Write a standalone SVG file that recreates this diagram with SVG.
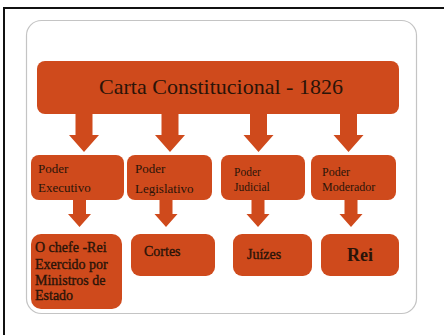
<svg xmlns="http://www.w3.org/2000/svg" width="444" height="335" viewBox="0 0 444 335">
<style>
.box{fill:#CF4A1C;}
.arrow{fill:#CF4A1C;}
.t{font-family:"Liberation Serif","Times New Roman",serif;fill:#2a1408;}
.s{font-size:13px;}
.b{font-size:14px;stroke:#2a1408;stroke-width:0.35;}
</style>
<rect width="444" height="335" fill="#ffffff"/>
<path d="M4,335 V8 H444" fill="none" stroke="#111111" stroke-width="2"/>
<rect x="26.5" y="20.5" width="390" height="293" rx="15" fill="#ffffff" stroke="#c4c4c4" stroke-width="1.2"/>
<g id="connectors">
<polygon class="arrow" points="75.5,114 92.5,114 92.5,135 99,135 84,152 69,135 75.5,135"/>
<polygon class="arrow" points="161.5,114 178.5,114 178.5,135 185,135 170,152 155,135 161.5,135"/>
<polygon class="arrow" points="250,114 267,114 267,135 273.5,135 258.5,152 243.5,135 250,135"/>
<polygon class="arrow" points="340,114 357,114 357,135 363.5,135 348.5,152 333.5,135 340,135"/>
<polygon class="arrow" points="73,200 86,200 86,214 91,214 79.5,227 68,214 73,214"/>
<polygon class="arrow" points="159.5,200 172.5,200 172.5,214 177.5,214 166,227 154.5,214 159.5,214"/>
<polygon class="arrow" points="251.5,200 264.5,200 264.5,214 269.5,214 258,227 246.5,214 251.5,214"/>
<polygon class="arrow" points="344.5,200 357.5,200 357.5,214 362.5,214 351,227 339.5,214 344.5,214"/>
</g>
<g id="title">
<rect class="box" x="37" y="61" width="362" height="53" rx="8"/>
<text class="t" x="221" y="94" font-size="22" text-anchor="middle">Carta Constitucional - 1826</text>
</g>
<g id="executivo">
<rect class="box" x="31" y="155" width="93" height="45" rx="8"/>
<text class="t s" x="38" y="173">Poder</text>
<text class="t s" x="38" y="192">Executivo</text>
</g>
<g id="legislativo">
<rect class="box" x="127" y="155" width="85" height="45" rx="8"/>
<text class="t s" x="135" y="173">Poder</text>
<text class="t s" x="135" y="193">Legislativo</text>
</g>
<g id="judicial">
<rect class="box" x="221" y="155" width="84" height="45" rx="8"/>
<text class="t" x="234" y="176" font-size="11.5">Poder</text>
<text class="t" x="234" y="191" font-size="11.5">Judicial</text>
</g>
<g id="moderador">
<rect class="box" x="311" y="155" width="85" height="45" rx="8"/>
<text class="t" x="322" y="176" font-size="12">Poder</text>
<text class="t" x="322" y="191" font-size="12">Moderador</text>
</g>
<g id="chefe">
<rect class="box" x="31" y="234" width="91" height="75" rx="10"/>
<text class="t b" x="35" y="252">O chefe -Rei</text>
<text class="t b" x="35" y="269">Exercido por</text>
<text class="t b" x="35" y="285">Ministros de</text>
<text class="t b" x="35" y="300">Estado</text>
</g>
<g id="cortes">
<rect class="box" x="131" y="234" width="84" height="42" rx="9"/>
<text class="t b" x="144" y="256">Cortes</text>
</g>
<g id="juizes">
<rect class="box" x="233" y="234" width="79" height="42" rx="9"/>
<text class="t b" x="247" y="259" font-size="13">Juízes</text>
</g>
<g id="rei">
<rect class="box" x="321" y="234" width="78" height="42" rx="9"/>
<text class="t" x="347" y="261" font-size="18" font-weight="bold">Rei</text>
</g>
</svg>
